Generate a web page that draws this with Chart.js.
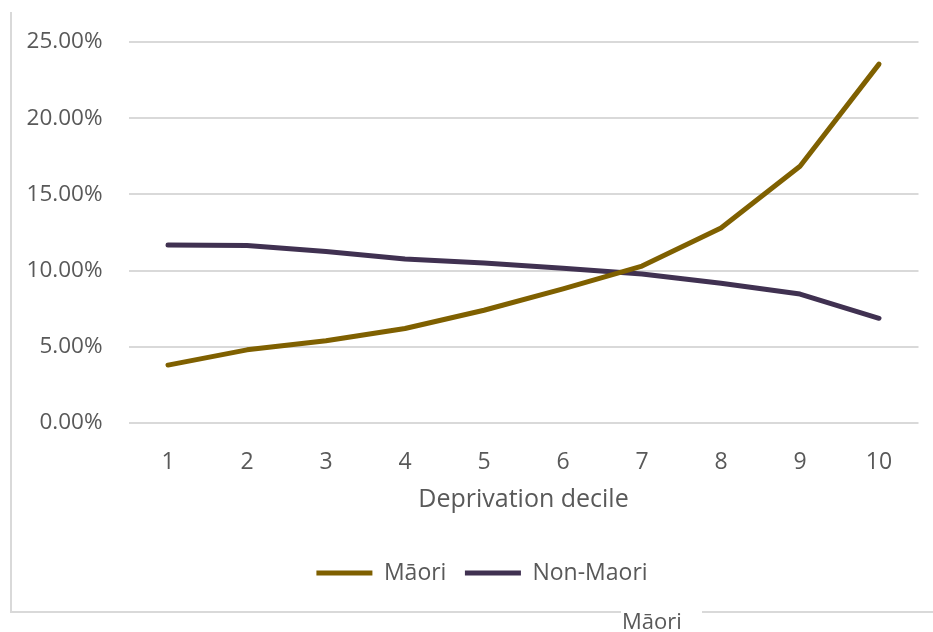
<!DOCTYPE html>
<html>
<head>
<meta charset="utf-8">
<script src="https://cdn.jsdelivr.net/npm/chart.js@4.4.1/dist/chart.umd.min.js"></script>
<style>
  html, body { margin: 0; padding: 0; background: #ffffff; overflow: hidden; width: 933px; height: 632px; }
  #frame {
    position: absolute; left: 10px; top: 12px; width: 960px; height: 599px;
    border-left: 2px solid #d9d9d9; border-bottom: 2px solid #d9d9d9;
  }
  #chart { position: absolute; left: 0; top: 0; }
  #caption {
    position: absolute; left: 621px; top: 606px; width: 80px; height: 29px;
    line-height: 29px; background: #ffffff; color: #595959;
    font-family: "Open Sans", sans-serif; font-size: 22px; padding-left: 1px;
  }
</style>
</head>
<body>
<div id="frame"></div>
<canvas id="chart" width="954" height="632"></canvas>
<div id="caption">Māori</div>
<script>
// Share of each group by deprivation decile (percent)
const deciles = ['1', '2', '3', '4', '5', '6', '7', '8', '9', '10'];
const maoriValues = [3.8, 4.8, 5.4, 6.2, 7.4, 8.8, 10.3, 12.8, 16.85, 23.55];
const nonMaoriValues = [11.68, 11.65, 11.25, 10.76, 10.5, 10.15, 9.78, 9.17, 8.46, 6.87];
const yTicks = [0, 5, 10, 15, 20, 25];

const textColor = '#595959';
const fontFamily = '"Open Sans", sans-serif';

new Chart(document.getElementById('chart'), {
  type: 'line',
  data: {
    labels: deciles,
    datasets: [
      {
        label: 'Māori',
        data: maoriValues,
        borderColor: '#7f6000',
        backgroundColor: '#7f6000',
        borderWidth: 5,
        borderCapStyle: 'round',
        borderJoinStyle: 'round',
        pointRadius: 0,
        tension: 0
      },
      {
        label: 'Non-Maori',
        data: nonMaoriValues,
        borderColor: '#403151',
        backgroundColor: '#403151',
        borderWidth: 5,
        borderCapStyle: 'round',
        borderJoinStyle: 'round',
        pointRadius: 0,
        tension: 0
      }
    ]
  },
  options: {
    responsive: false,
    animation: false,
    devicePixelRatio: 1,
    layout: { padding: { left: 10, right: 0, top: 42, bottom: 37.5 } },
    plugins: {
      tooltip: { enabled: false },
      legend: {
        position: 'bottom',
        labels: {
          usePointStyle: true,
          pointStyle: 'line',
          pointStyleWidth: 56,
          boxWidth: 56,
          padding: 18.5,
          color: textColor,
          font: { family: fontFamily, size: 23 }
        }
      }
    },
    scales: {
      x: {
        offset: true,
        grid: { display: false, drawTicks: false },
        border: { display: false },
        ticks: { color: textColor, padding: 25.5, font: { family: fontFamily, size: 23 } },
        title: {
          display: true,
          text: 'Deprivation decile',
          color: textColor,
          font: { family: fontFamily, size: 25 },
          padding: { top: 0, bottom: 28 }
        },
        afterFit: s => { s.height = 120; }
      },
      y: {
        min: 0,
        max: 25,
        grid: { color: '#d9d9d9', lineWidth: 2, drawTicks: false },
        border: { display: false },
        afterBuildTicks: s => { s.ticks = yTicks.map(v => ({ value: v })); },
        ticks: {
          color: textColor,
          padding: 26,
          font: { family: fontFamily, size: 22.5 },
          callback: v => v.toFixed(2) + '%'
        },
        afterFit: s => { s.width = 118.5; }
      },
      spacer: {
        type: 'linear',
        position: 'right',
        display: true,
        grid: { display: false, drawTicks: false },
        border: { display: false },
        ticks: { display: false },
        afterFit: s => { s.width = 35.5; }
      }
    }
  }
});
</script>
</body>
</html>
